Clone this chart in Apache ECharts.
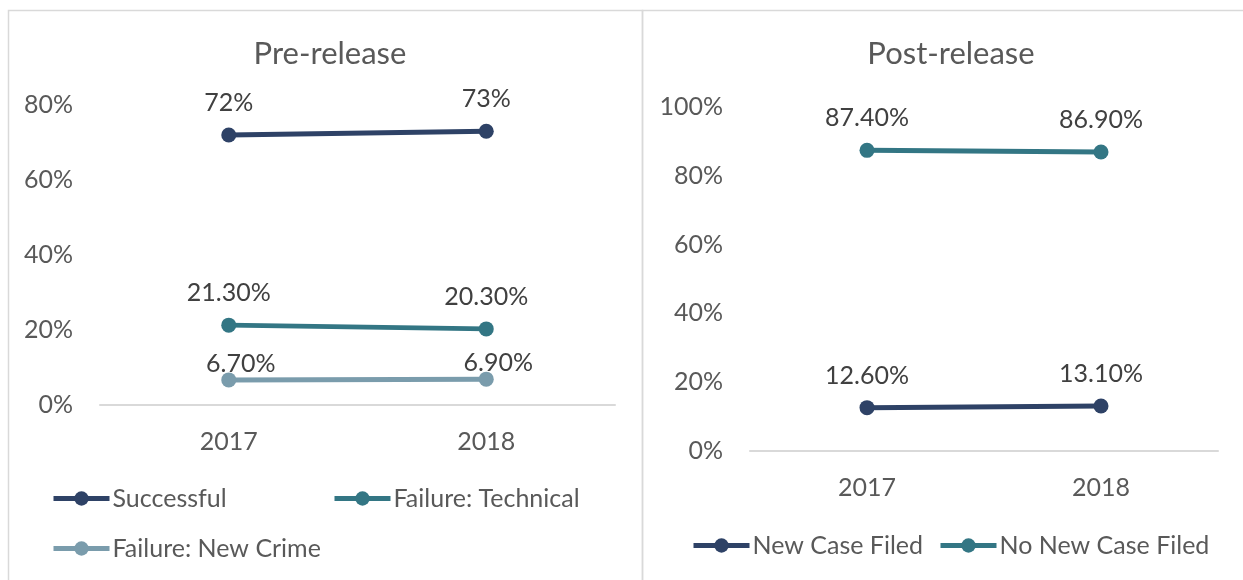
<!DOCTYPE html>
<html>
<head>
<meta charset="utf-8">
<script src="https://cdn.jsdelivr.net/npm/echarts@6/dist/echarts.min.js"></script>
<style>
  html, body { margin: 0; padding: 0; background: #fff; }
  #chart { width: 1243px; height: 580px; }
</style>
</head>
<body>
<div id="chart"></div>
<script>
// data
const years = ['2017', '2018'];
const successful = [72, 73];
const failureTechnical = [21.3, 20.3];
const failureNewCrime = [6.7, 6.9];
const newCaseFiled = [12.6, 13.1];
const noNewCaseFiled = [87.4, 86.9];

const NAVY = '#2E4266';
const TEAL = '#337684';
const STEEL = '#7A9CAC';
const FONT = 'Lato, sans-serif';
const AXIS_GREY = '#595959';

const chart = echarts.init(document.getElementById('chart'));

function lineSeries(name, data, color, axisIdx, labelText) {
  return {
    name: name,
    type: 'line',
    xAxisIndex: axisIdx,
    yAxisIndex: axisIdx,
    data: data,
    symbol: 'circle',
    symbolSize: 15,
    color: color,
    lineStyle: { width: 5, color: color },
    itemStyle: { color: color },
    label: {
      show: true,
      position: 'top',
      distance: 12,
      formatter: labelText,
      fontFamily: FONT,
      fontSize: 25,
      color: '#404040'
    },
    emphasis: { disabled: true },
    animation: false
  };
}

function legendAt(name, left, top) {
  return {
    data: [name],
    left: left,
    top: top,
    padding: 0,
    itemWidth: 56,
    itemHeight: 18,
    lineStyle: { width: 5 },
    textStyle: { fontFamily: FONT, fontSize: 25, color: AXIS_GREY, padding: [0, 0, 0, -2] },
    selectedMode: false
  };
}

const pct = p => p.value + '%';
const pct2 = p => p.value.toFixed(2) + '%';

const option = {
  backgroundColor: '#fff',
  graphic: [
    { type: 'rect', shape: { x: 8.5, y: 10.5, width: 634, height: 620 },
      style: { fill: 'none', stroke: '#d9d9d9', lineWidth: 1.5 }, silent: true },
    { type: 'rect', shape: { x: 642.5, y: 10.5, width: 700, height: 620 },
      style: { fill: 'none', stroke: '#d9d9d9', lineWidth: 1.5 }, silent: true }
  ],
  title: [
    { text: 'Pre-release', left: 325, top: 33, textAlign: 'center',
      textStyle: { fontFamily: FONT, fontSize: 31, fontWeight: 'normal', color: AXIS_GREY } },
    { text: 'Post-release', left: 946, top: 33, textAlign: 'center',
      textStyle: { fontFamily: FONT, fontSize: 31, fontWeight: 'normal', color: AXIS_GREY } }
  ],
  legend: [
    legendAt('Successful', 51, 486),
    legendAt('Failure: Technical', 332, 486),
    legendAt('Failure: New Crime', 51, 536),
    legendAt('New Case Filed', 691, 533),
    legendAt('No New Case Filed', 938, 533)
  ],
  grid: [
    { left: 100, right: 628, top: 105, bottom: 175 },
    { left: 750, right: 25, top: 107, bottom: 129 }
  ],
  xAxis: [0, 1].map(i => ({
    type: 'category',
    gridIndex: i,
    data: years,
    boundaryGap: true,
    axisLine: { lineStyle: { color: '#d9d9d9', width: 2 } },
    axisTick: { show: false },
    axisLabel: { margin: 24, fontFamily: FONT, fontSize: 25, color: AXIS_GREY }
  })),
  yAxis: [
    { type: 'value', gridIndex: 0, min: 0, max: 80, interval: 20,
      axisLine: { show: false }, axisTick: { show: false }, splitLine: { show: false },
      axisLabel: { formatter: '{value}%', margin: 27, fontFamily: FONT, fontSize: 25, color: AXIS_GREY } },
    { type: 'value', gridIndex: 1, min: 0, max: 100, interval: 20,
      axisLine: { show: false }, axisTick: { show: false }, splitLine: { show: false },
      axisLabel: { formatter: '{value}%', margin: 27, fontFamily: FONT, fontSize: 25, color: AXIS_GREY } }
  ],
  series: [
    lineSeries('Successful', successful, NAVY, 0, pct),
    lineSeries('Failure: Technical', failureTechnical, TEAL, 0, pct2),
    lineSeries('Failure: New Crime', failureNewCrime, STEEL, 0, pct2),
    lineSeries('New Case Filed', newCaseFiled, NAVY, 1, pct2),
    lineSeries('No New Case Filed', noNewCaseFiled, TEAL, 1, pct2)
  ]
};
// the new-crime labels sit closer to the line and a bit to the right
option.series[2].label.distance = -4;
option.series[2].label.offset = [12, 0];

chart.setOption(option);
</script>
</body>
</html>
